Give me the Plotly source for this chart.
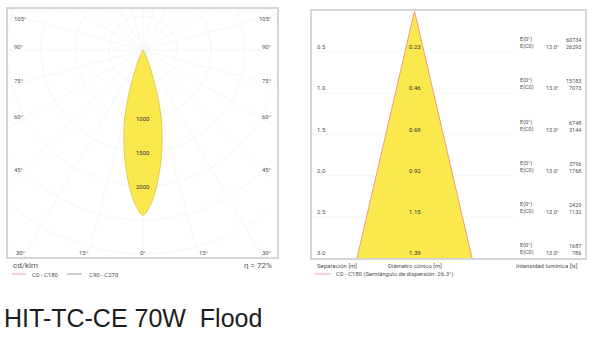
import numpy as np
import plotly.graph_objects as go

W, H = 600, 341

# ---------------- data ----------------
# Left: polar light distribution (cd/klm), same for C0-C180 and C90-C270
gamma_deg = [0, 2.5, 5, 7.5, 10, 12.5, 15, 17.5, 20, 22.5, 25, 27.5, 30]
intensity = [2430, 2300, 2090, 1830, 1570, 1300, 1040, 720, 430, 230, 120, 40, 0]
radial_ticks = [1000, 1500, 2000]
side_angle_labels = ["105°", "90°", "75°", "60°", "45°"]
bottom_angle_labels = ["30°", "15°", "0°", "15°", "30°"]
unit_label = "cd/klm"
efficiency_label = "η = 72%"
legend_left = ["C0 - C180", "C90 - C270"]

# Right: cone diagram
separation = [0.5, 1.0, 1.5, 2.0, 2.5, 3.0]
diameter = [0.23, 0.46, 0.69, 0.92, 1.15, 1.39]
e_center = [60734, 15183, 6748, 3796, 2429, 1687]
e_c0 = [26293, 7073, 3144, 1768, 1132, 786]
half_angle_label = "13.0°"
right_axis_titles = ["Separación [m]", "Diámetro cónico [m]", "Intensidad lumínica [lx]"]
legend_right = "C0 - C180 (Semiángulo de dispersión: 26.3°)"
title = "HIT-TC-CE 70W\u00a0 Flood"

# ---------------- layout geometry (pixels) ----------------
L = dict(x0=8, x1=277, y0=9, y1=257)
R = dict(x0=312, x1=585, y0=11, y1=258)
cx, cy = 143, 50           # polar centre in pixels
ppu = 68 / 1000            # pixels per cd/klm
apex_x = 414.5
ppm = 57.5 / (diameter[-1] / 2)  # pixels per metre horizontally

def fx(p):
    return p / W

def fy(p):
    return 1 - p / H

YEL = "#FAE84C"
PINK = "#EFA0A8"
GRID = "#F4F4F4"
TXT = "#505050"
FONT = "Roboto"

fig = go.Figure()

# ---- left grid ----
t = np.linspace(0, 2 * np.pi, 361)
for r in range(500, 6001, 500):
    fig.add_trace(go.Scatter(x=r * np.sin(t), y=r * np.cos(t), mode="lines",
                             line=dict(color=GRID, width=0.8), hoverinfo="skip",
                             showlegend=False, xaxis="x", yaxis="y"))
for a in range(0, 360, 15):
    ar = np.radians(a)
    fig.add_trace(go.Scatter(x=[0, 8000 * np.sin(ar)], y=[0, -8000 * np.cos(ar)], mode="lines",
                             line=dict(color=GRID, width=0.8), hoverinfo="skip",
                             showlegend=False, xaxis="x", yaxis="y"))

# ---- lobe ----
g = np.radians(gamma_deg)
I = np.array(intensity, dtype=float)
xs_r = I * np.sin(g)
ys_r = -I * np.cos(g)
xs = np.concatenate([-xs_r[::-1], xs_r[1:]])
ys = np.concatenate([ys_r[::-1], ys_r[1:]])
fig.add_trace(go.Scatter(x=xs, y=ys, mode="lines", fill="toself", fillcolor=YEL,
                         line=dict(color="#D8C348", width=0.8), line_shape="spline",
                         hoverinfo="skip", showlegend=False, xaxis="x", yaxis="y"))

# ---- right grid ----
x_grid_end = (515 - apex_x) / ppm
x_left = -(apex_x - R["x0"]) / ppm
x_right = (R["x1"] - apex_x) / ppm
for s in separation[:-1]:
    fig.add_trace(go.Scatter(x=[x_left, x_grid_end], y=[s, s], mode="lines",
                             line=dict(color=GRID, width=0.8), hoverinfo="skip",
                             showlegend=False, xaxis="x2", yaxis="y2"))

# ---- cone ----
half = [d / 2 for d in diameter]
cx_poly = [0] + half + [-h for h in half[::-1]] + [0]
cy_poly = [0] + separation + separation[::-1] + [0]
fig.add_trace(go.Scatter(x=cx_poly, y=cy_poly, mode="lines", fill="toself", fillcolor=YEL,
                         line=dict(width=0), hoverinfo="skip", showlegend=False,
                         xaxis="x2", yaxis="y2"))
fig.add_trace(go.Scatter(x=[-half[-1], 0, half[-1]], y=[separation[-1], 0, separation[-1]],
                         mode="lines", line=dict(color="#EE9C80", width=1), hoverinfo="skip",
                         showlegend=False, xaxis="x2", yaxis="y2"))

# ---------------- annotations ----------------
ann = []

def add(text, x, y, xref="paper", yref="paper", size=6, xanchor="left", yanchor="middle",
        color=TXT, family=FONT, yshift=0):
    ann.append(dict(text=text, x=x, y=y, xref=xref, yref=yref, showarrow=False,
                    xanchor=xanchor, yanchor=yanchor, yshift=yshift,
                    font=dict(size=size, color=color, family=family)))

side_y = [19, 47, 80, 117, 169]
for lab, yy in zip(side_angle_labels, side_y):
    add(lab, fx(12), fy(yy))
    add(lab, fx(273), fy(yy), xanchor="right")
bottom_x = [20, 83, 143, 203, 266]
for lab, xx in zip(bottom_angle_labels, bottom_x):
    add(lab, fx(xx), fy(252), xanchor="center")
for r in radial_ticks:
    add(str(r), 0, -r, xref="x", yref="y", xanchor="center", color="#333")

add(unit_label, fx(11), fy(265), size=8)
add(efficiency_label, fx(274), fy(265), size=8, xanchor="right")
add(legend_left[0], fx(30), fy(274))
add(legend_left[1], fx(87), fy(274))

for s, d, e0, ec in zip(separation, diameter, e_center, e_c0):
    add(f"{s:.1f}", fx(315), s, yref="y2", yanchor="bottom")
    add(f"{d:.2f}", 0, s, xref="x2", yref="y2", xanchor="center", yanchor="bottom", color="#333")
    add("E(0°)", fx(518), s, yref="y2", yanchor="bottom", yshift=7, size=5.5)
    add("E(C0)", fx(518), s, yref="y2", yanchor="bottom", size=5.5)
    add(half_angle_label, fx(544), s, yref="y2", yanchor="bottom", size=5.5)
    add(str(e0), fx(583), s, yref="y2", xanchor="right", yanchor="bottom", yshift=7, size=5.5)
    add(str(ec), fx(583), s, yref="y2", xanchor="right", yanchor="bottom", size=5.5)

add(right_axis_titles[0], fx(315), fy(265))
add(right_axis_titles[1], fx(386), fy(265))
add(right_axis_titles[2], fx(580), fy(265), xanchor="right")
add(legend_right, fx(334), fy(274))

add(title, fx(2), fy(318), size=25, color="#1c1c1c", family="Liberation Sans, Arial, sans-serif")

# legend line samples
shapes = [
    dict(type="line", xref="paper", yref="paper", x0=fx(12), x1=fx(26), y0=fy(274), y1=fy(274),
         line=dict(color=PINK, width=1)),
    dict(type="line", xref="paper", yref="paper", x0=fx(67), x1=fx(82), y0=fy(274), y1=fy(274),
         line=dict(color="#9a9a9a", width=1)),
    dict(type="line", xref="paper", yref="paper", x0=fx(315), x1=fx(331), y0=fy(274), y1=fy(274),
         line=dict(color=PINK, width=1)),
]

axis_common = dict(showgrid=False, zeroline=False, showticklabels=False, ticks="",
                   showline=True, mirror=True, linecolor="#D6D6D6", linewidth=1.5, fixedrange=True)

fig.update_layout(
    width=W, height=H,
    margin=dict(l=0, r=0, t=0, b=0),
    paper_bgcolor="white", plot_bgcolor="white",
    showlegend=False,
    xaxis=dict(domain=[fx(L["x0"]), fx(L["x1"])],
               range=[-(cx - L["x0"]) / ppu, (L["x1"] - cx) / ppu], **axis_common),
    yaxis=dict(domain=[fy(L["y1"]), fy(L["y0"])],
               range=[-(L["y1"] - cy) / ppu, (cy - L["y0"]) / ppu], **axis_common),
    xaxis2=dict(domain=[fx(R["x0"]), fx(R["x1"])], range=[x_left, x_right], anchor="y2", **axis_common),
    yaxis2=dict(domain=[fy(R["y1"]), fy(R["y0"])], range=[separation[-1], 0], anchor="x2", **axis_common),
    annotations=ann,
    shapes=shapes,
)

fig.write_html("out.html")
